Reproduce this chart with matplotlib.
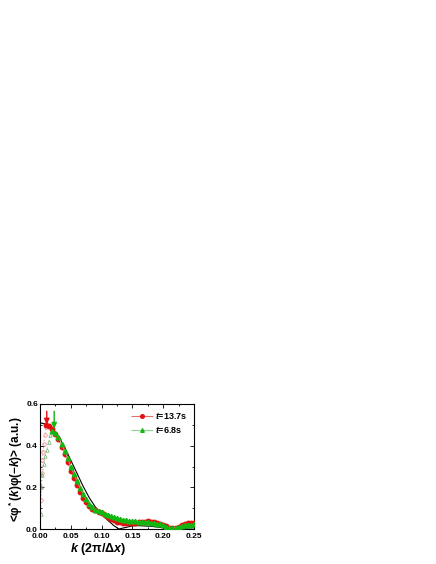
import matplotlib.pyplot as plt
from matplotlib.lines import Line2D
import numpy as np

plt.rcParams['font.family'] = ['Liberation Sans', 'DejaVu Sans']
plt.rcParams['mathtext.fontset'] = 'custom'
plt.rcParams['mathtext.rm'] = 'Liberation Sans:bold'
plt.rcParams['mathtext.it'] = 'Liberation Sans:bold:italic'
plt.rcParams['mathtext.bf'] = 'Liberation Sans:bold'
plt.rcParams['lines.scale_dashes'] = False

# black reference curve
k_ref = [0.000, 0.010, 0.020, 0.030, 0.040, 0.050, 0.060, 0.070, 0.080, 0.090,
         0.100, 0.110, 0.120, 0.128, 0.140, 0.150, 0.160, 0.180, 0.200, 0.215,
         0.230, 0.250]
v_ref = [0.510, 0.503, 0.482, 0.445, 0.392, 0.330, 0.268, 0.205, 0.150, 0.105,
         0.072, 0.042, 0.016, 0.000, 0.008, 0.015, 0.016, 0.013, 0.006, 0.000,
         0.003, 0.006]

# t = 13.7 s
k_red = [0.010, 0.015, 0.020, 0.025, 0.030, 0.035, 0.040, 0.045, 0.050, 0.055,
         0.060, 0.065, 0.070, 0.075, 0.080, 0.085, 0.090, 0.095, 0.100, 0.105,
         0.110, 0.115, 0.120, 0.125, 0.130, 0.135, 0.140, 0.145, 0.150, 0.155,
         0.160, 0.165, 0.170, 0.175, 0.180, 0.185, 0.190, 0.195, 0.200, 0.205,
         0.210, 0.215, 0.220, 0.225, 0.230, 0.235, 0.240, 0.245, 0.250]
v_red = [0.500, 0.495, 0.480, 0.455, 0.430, 0.395, 0.360, 0.320, 0.280, 0.245,
         0.210, 0.180, 0.150, 0.128, 0.110, 0.098, 0.090, 0.083, 0.077, 0.068,
         0.058, 0.050, 0.042, 0.036, 0.032, 0.030, 0.028, 0.028, 0.029, 0.030,
         0.032, 0.034, 0.036, 0.037, 0.036, 0.034, 0.030, 0.025, 0.020, 0.013,
         0.007, 0.004, 0.006, 0.012, 0.018, 0.023, 0.027, 0.030, 0.031]
k_red_low = [0.001, 0.002, 0.003, 0.004, 0.005, 0.006, 0.008, 0.010]
v_red_low = [0.14, 0.20, 0.27, 0.33, 0.37, 0.41, 0.45, 0.49]

# t = 6.8 s
k_grn = [0.020, 0.025, 0.030, 0.035, 0.040, 0.045, 0.050, 0.055, 0.060, 0.065,
         0.070, 0.075, 0.080, 0.085, 0.090, 0.095, 0.100, 0.105, 0.110, 0.115,
         0.120, 0.125, 0.130, 0.135, 0.140, 0.145, 0.150, 0.155, 0.160, 0.165,
         0.170, 0.175, 0.180, 0.185, 0.190, 0.195, 0.200, 0.205, 0.210, 0.215,
         0.220, 0.225, 0.230, 0.235, 0.240, 0.245, 0.250]
v_grn = [0.470, 0.460, 0.440, 0.410, 0.375, 0.340, 0.300, 0.265, 0.230, 0.198,
         0.168, 0.142, 0.120, 0.104, 0.093, 0.086, 0.080, 0.074, 0.068, 0.062,
         0.057, 0.052, 0.048, 0.045, 0.042, 0.040, 0.038, 0.037, 0.036, 0.035,
         0.034, 0.033, 0.031, 0.029, 0.026, 0.022, 0.017, 0.011, 0.006, 0.004,
         0.006, 0.010, 0.014, 0.017, 0.019, 0.021, 0.022]
k_grn_low = [0.001, 0.002, 0.004, 0.006, 0.008, 0.011, 0.014, 0.017, 0.020]
v_grn_low = [0.07, 0.20, 0.26, 0.31, 0.35, 0.38, 0.42, 0.45, 0.47]

labels = [r'$t$=13.7s', r'$t$=6.8s']

# arrow positions (k, start value, tip value)
arrow_red = (0.011, 0.565, 0.50)
arrow_grn = (0.023, 0.565, 0.48)

red = '#e41010'
green = '#10b810'
red_line = '#e07070'
green_line = '#90d090'

fig = plt.figure(figsize=(4.36, 5.64), dpi=100)
ax = fig.add_axes([40 / 436, 35 / 564, 154 / 436, 125 / 564])

ax.plot(k_ref, v_ref, color='black', lw=0.8, zorder=2)
ax.plot(k_red_low, v_red_low, ls=':', color='#f08080', lw=0.6, marker='o',
        mfc='none', mec='#f08080', ms=2.5, mew=0.5)
ax.plot(k_grn_low, v_grn_low, ls=':', color='#80c080', lw=0.6, marker='^',
        mfc='none', mec='#70b070', ms=2.5, mew=0.5)
ax.plot(k_red, v_red, ls='-', color=red_line, lw=0.6, marker='o', ms=3.2,
        mfc=red, mec=red, zorder=3)
ax.plot(k_grn, v_grn, ls='-', color=green_line, lw=0.6, marker='^', ms=3.2,
        mfc=green, mec=green, zorder=4)

for (ka, v0, v1), c in [(arrow_red, red), (arrow_grn, green)]:
    ax.annotate('', xy=(ka, v1), xytext=(ka, v0),
                arrowprops=dict(arrowstyle='-|>,head_length=0.5,head_width=0.22',
                                color=c, lw=1.0, mutation_scale=7,
                                shrinkA=0, shrinkB=0))

ax.set_xlim(0, 0.25)
ax.set_ylim(0, 0.6)
ax.set_xticks([0.00, 0.05, 0.10, 0.15, 0.20, 0.25])
ax.set_xticklabels(['0.00', '0.05', '0.10', '0.15', '0.20', '0.25'])
ax.set_yticks([0.0, 0.2, 0.4, 0.6])
ax.set_yticklabels(['0.0', '0.2', '0.4', '0.6'])
ax.set_xticks(np.arange(0.025, 0.25, 0.05), minor=True)
ax.set_yticks([0.1, 0.3, 0.5], minor=True)
ax.tick_params(which='both', direction='in', top=True, right=True,
               labelsize=6, width=0.6)
ax.tick_params(axis='x', pad=3)
ax.tick_params(axis='y', pad=1.5)
ax.tick_params(which='major', length=3)
ax.tick_params(which='minor', length=1.5)
for lab in ax.get_xticklabels() + ax.get_yticklabels():
    lab.set_fontweight('bold')
for sp in ax.spines.values():
    sp.set_linewidth(0.8)

ax.set_xlabel(r'$k$ (2π/Δ$x$)', fontsize=9, fontweight='bold')
ax.xaxis.set_label_coords(0.375, -0.095)
ax.set_ylabel(r'<φ$^*$($k$)φ($-k$)> (a.u.)', fontsize=8.5, fontweight='bold')
ax.yaxis.set_label_coords(-0.1, 0.48)

handles = [
    Line2D([], [], color=red_line, lw=0.8, dashes=(6.5, 2.2, 7),
           marker='o', ms=2.6, mfc=red, mec=red),
    Line2D([], [], color=green_line, lw=0.8, dashes=(6.5, 2.2, 7),
           marker='^', ms=2.6, mfc=green, mec=green),
]
leg = ax.legend(handles, labels, loc='upper right', fontsize=6.5,
                frameon=False, handlelength=2.4, handletextpad=0.3,
                labelspacing=0.35, borderaxespad=0.3, numpoints=1)
for t in leg.get_texts():
    t.set_fontweight('bold')

fig.savefig('out.png', dpi=100)
